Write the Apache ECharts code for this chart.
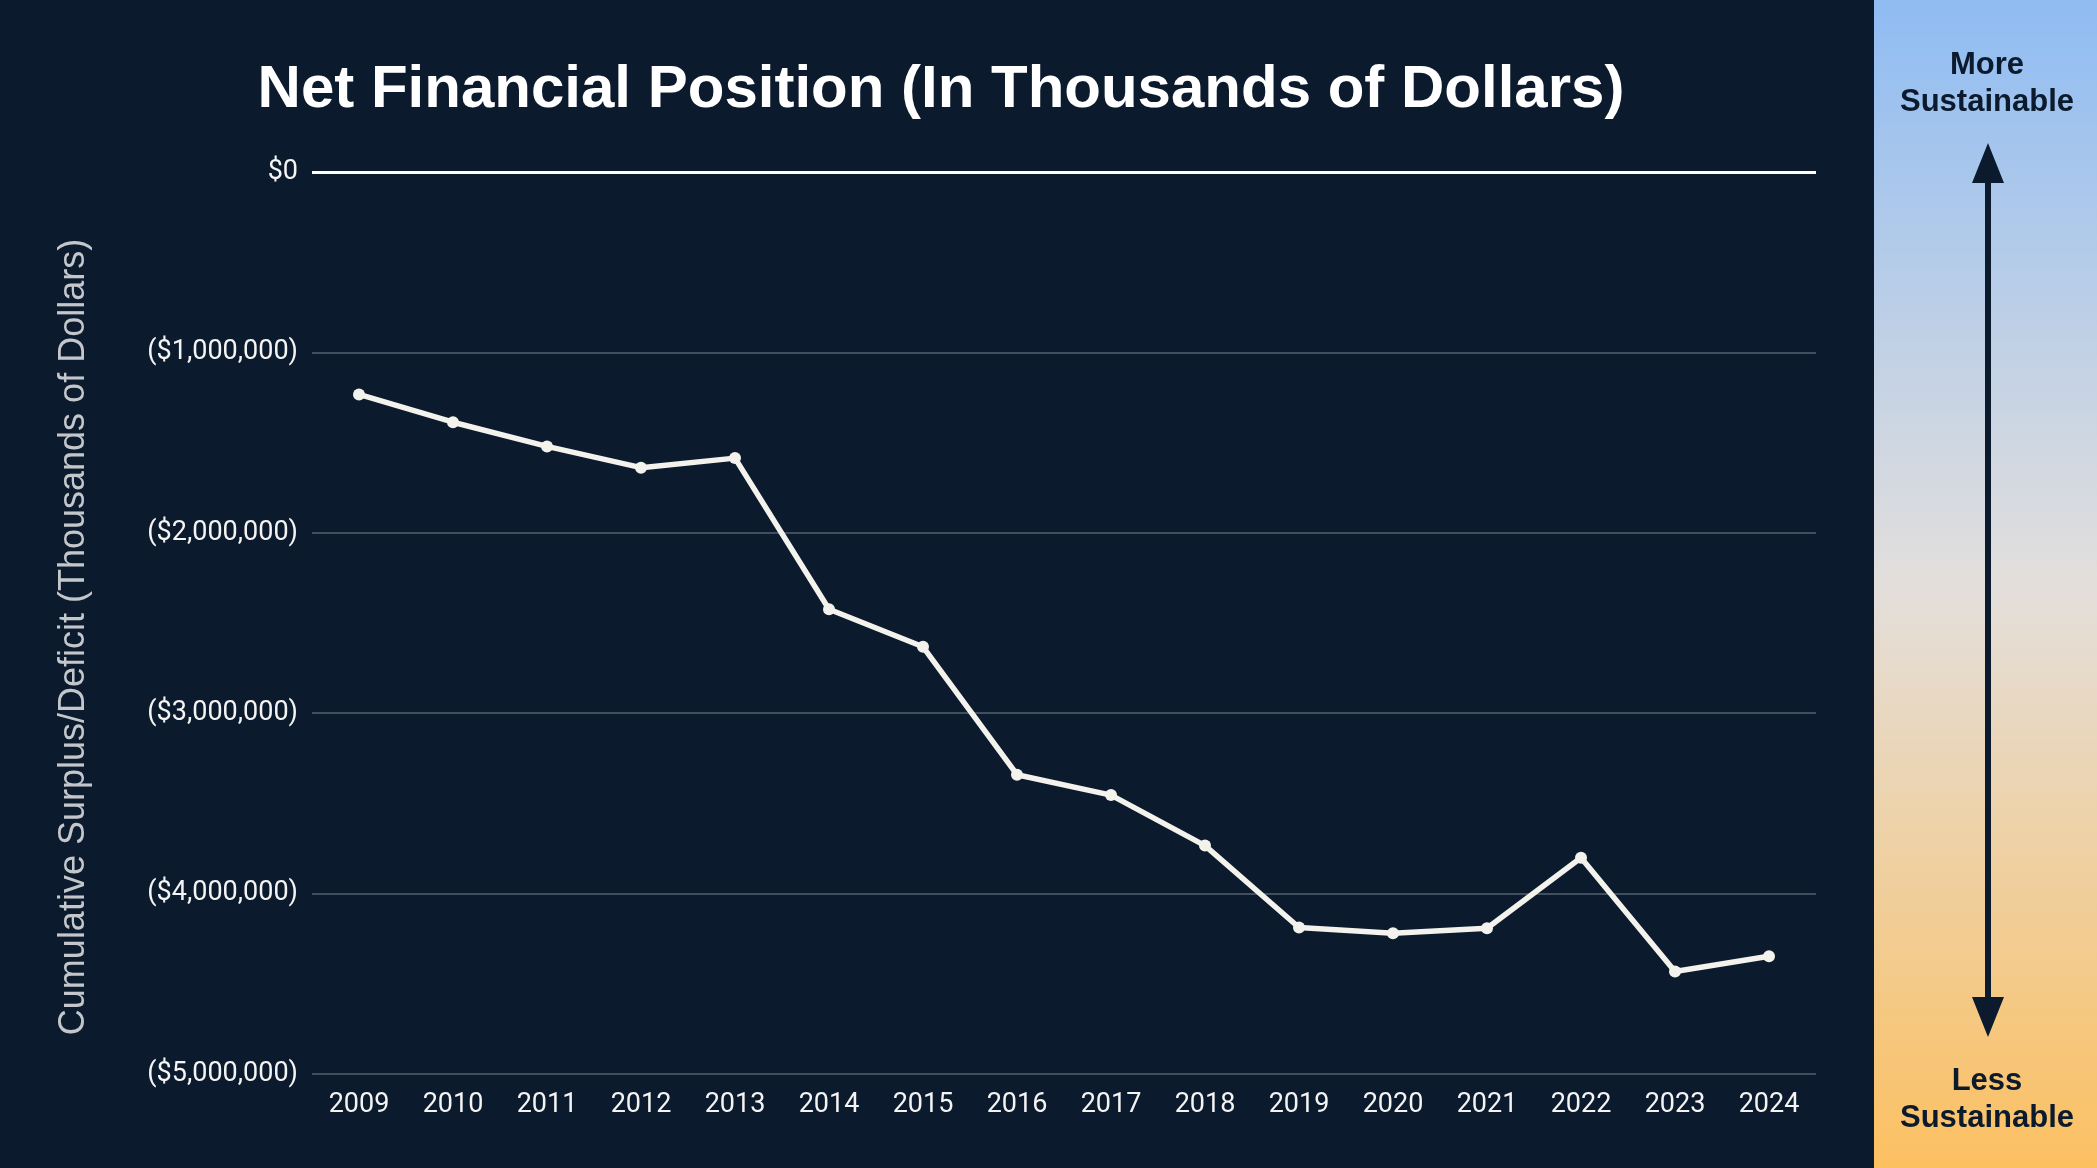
<!DOCTYPE html>
<html><head><meta charset="utf-8">
<script src="https://cdn.jsdelivr.net/npm/echarts@6/dist/echarts.min.js"></script>
<style>html,body{margin:0;padding:0;background:#0b1a2c;}#c{width:2097px;height:1168px;}</style>
</head><body><div id="c"></div>
<script>
var years = ['2009','2010','2011','2012','2013','2014','2015','2016','2017','2018','2019','2020','2021','2022','2023','2024'];
var netPosition = [-1233000,-1387000,-1521000,-1639000,-1586000,-2424000,-2632000,-3341000,-3454000,-3734000,-4188000,-4220000,-4192000,-3801000,-4432000,-4347000];
var yTicks = [0,-1000000,-2000000,-3000000,-4000000,-5000000];
var titleText = 'Net Financial Position (In Thousands of Dollars)';
var yAxisTitle = 'Cumulative Surplus/Deficit (Thousands of Dollars)';
var topLabel = ['More','Sustainable'];
var bottomLabel = ['Less','Sustainable'];

function fmt(v){
  if (v === 0) return '$0';
  var s = Math.abs(v).toString().replace(/\B(?=(\d{3})+(?!\d))/g, ',');
  return v < 0 ? '($' + s + ')' : '$' + s;
}

var chart = echarts.init(document.getElementById('c'), null, {renderer:'canvas'});
var sideFont = 'bold 31px "Liberation Sans", Arial, sans-serif';
chart.setOption({
  backgroundColor:'#0b1a2c',
  animation:false,
  title:{text:titleText,left:936,top:55,textAlign:'center',
    textStyle:{color:'#ffffff',fontFamily:'Liberation Sans, Arial, sans-serif',fontWeight:'bold',fontSize:60}},
  grid:{left:312,right:281,top:172,bottom:94,containLabel:false},
  xAxis:{type:'category',data:years,boundaryGap:true,
    axisLine:{show:false},axisTick:{show:false},
    axisLabel:{color:'#f4f4f4',fontFamily:'Roboto, sans-serif',fontSize:27,margin:18}},
  yAxis:{type:'value',min:-5000000,max:0,interval:1000000,
    axisLine:{show:false},axisTick:{show:false},
    axisLabel:{color:'#f4f4f4',fontFamily:'Roboto, sans-serif',fontSize:27,margin:14,formatter:fmt,padding:[5,0,0,0]},
    splitLine:{lineStyle:{color:'#414e5d',width:2}}},
  series:[
    {type:'line',data:netPosition,symbol:'circle',symbolSize:12,showSymbol:true,
     lineStyle:{color:'#f3f2ec',width:5.5},itemStyle:{color:'#f3f2ec'},
     markLine:{silent:true,symbol:'none',label:{show:false},
       lineStyle:{color:'#ffffff',width:3,type:'solid'},data:[{yAxis:yTicks[0]}]}}
  ],
  graphic:[
    {type:'text',x:74,y:637,rotation:Math.PI/2,
     style:{text:yAxisTitle,fill:'#c3c7cc',font:'36px "Liberation Sans", Arial, sans-serif',
       textAlign:'center',textVerticalAlign:'middle'}},
    {type:'rect',shape:{x:1874,y:0,width:223,height:1168},
     style:{fill:new echarts.graphic.LinearGradient(0,0,0,1,[
       {offset:0,color:'#8fbcf3'},{offset:0.5,color:'#e3dfdc'},{offset:1,color:'#fcc061'}])}},
    {type:'text',x:1987,y:65,style:{text:topLabel[0],fill:'#0b1a2c',font:sideFont,textAlign:'center',textVerticalAlign:'middle'}},
    {type:'text',x:1987,y:102,style:{text:topLabel[1],fill:'#0b1a2c',font:sideFont,textAlign:'center',textVerticalAlign:'middle'}},
    {type:'text',x:1987,y:1081,style:{text:bottomLabel[0],fill:'#0b1a2c',font:sideFont,textAlign:'center',textVerticalAlign:'middle'}},
    {type:'text',x:1987,y:1118,style:{text:bottomLabel[1],fill:'#0b1a2c',font:sideFont,textAlign:'center',textVerticalAlign:'middle'}},
    {type:'line',shape:{x1:1988,y1:175,x2:1988,y2:1000},style:{stroke:'#0b1a2c',lineWidth:6}},
    {type:'polygon',shape:{points:[[1988,143],[1972,183],[2004,183]]},style:{fill:'#0b1a2c'}},
    {type:'polygon',shape:{points:[[1988,1037],[1972,997],[2004,997]]},style:{fill:'#0b1a2c'}}
  ]
});
</script></body></html>
